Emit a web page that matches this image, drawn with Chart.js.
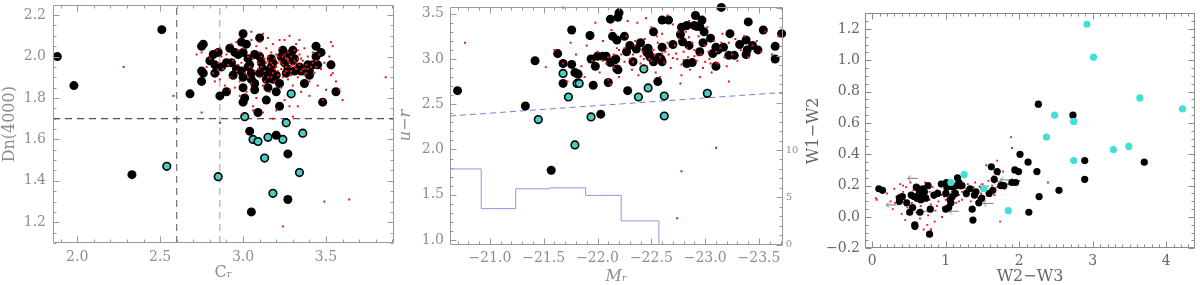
<!DOCTYPE html>
<html><head><meta charset="utf-8">
<script src="https://cdn.jsdelivr.net/npm/chart.js@4.4.0/dist/chart.umd.min.js"></script>
<style>
html,body{margin:0;padding:0;background:#fff;overflow:hidden;width:1200px;height:285px}
canvas{position:absolute;top:0}
</style></head><body>
<canvas id="c1" width="400" height="285" style="left:0px"></canvas>
<canvas id="c2" width="400" height="285" style="left:400px"></canvas>
<canvas id="c3" width="400" height="285" style="left:800px"></canvas>
<script>
// ---------- Panel 1: Cr vs Dn(4000) ----------
const p1XTicks = [2.0, 2.5, 3.0, 3.5];
const p1YTicks = [1.2, 1.4, 1.6, 1.8, 2.0, 2.2];
const p1CrCuts = [2.60, 2.86];
const p1DnCut = 1.70;
const p1Black = [[1.88,2.00],[1.98,1.86],[2.51,2.13],[2.33,1.43],[2.68,1.82],[2.75,1.88],[2.75,1.93],[2.76,1.92],[2.75,2.05],[2.76,2.06],[2.80,1.98],[2.82,2.01],[2.83,1.96],[2.83,1.92],[2.85,2.02],[2.86,1.81],[2.87,1.95],[2.90,1.97],[2.90,1.83],[2.92,2.04],[2.93,1.97],[2.94,1.91],[2.95,2.02],[2.96,1.94],[2.97,2.01],[2.99,1.93],[3.00,2.11],[2.99,2.07],[3.00,2.02],[3.00,1.90],[3.00,1.85],[3.00,1.78],[3.01,1.80],[3.02,2.06],[3.03,1.99],[3.03,1.95],[3.04,1.96],[3.05,1.92],[3.05,1.89],[3.07,2.01],[3.07,1.87],[3.07,1.84],[3.09,1.73],[3.10,2.00],[3.10,2.09],[3.11,1.97],[3.10,1.92],[3.12,1.94],[3.14,1.79],[3.14,1.89],[3.15,1.85],[3.15,1.92],[3.17,1.99],[3.17,1.95],[3.17,1.93],[3.18,1.97],[3.18,1.89],[3.20,1.83],[3.20,1.91],[3.22,1.76],[3.22,1.87],[3.23,2.00],[3.24,2.03],[3.25,1.97],[3.26,1.92],[3.27,1.94],[3.28,2.01],[3.30,1.98],[3.30,2.03],[3.31,1.93],[3.31,1.99],[3.34,1.95],[3.35,1.93],[3.37,1.87],[3.39,1.96],[3.40,1.93],[3.40,1.91],[3.42,1.96],[3.44,2.05],[3.44,2.00],[3.45,1.96],[3.47,2.02],[3.48,1.78],[3.53,1.96],[3.56,1.83],[3.04,1.64],[3.20,1.62],[3.27,1.53],[3.27,1.31],[3.05,1.25]];
const p1Cyan = [[2.54,1.47],[2.85,1.42],[3.01,1.71],[3.06,1.60],[3.09,1.59],[3.15,1.61],[3.24,1.60],[3.26,1.68],[3.36,1.63],[3.13,1.51],[3.34,1.44],[3.18,1.34],[3.29,1.82]];
const p1Red = [[2.78,1.95],[2.80,1.99],[2.82,1.92],[2.84,2.03],[2.85,1.97],[2.86,1.89],[2.87,2.00],[2.88,1.94],[2.89,1.86],[2.90,2.01],[2.91,1.96],[2.92,1.90],[2.93,2.06],[2.94,1.98],[2.95,1.85],[2.96,1.93],[2.97,2.03],[2.98,1.88],[2.99,1.97],[3.00,2.04],[3.01,1.92],[3.02,1.83],[3.03,2.00],[3.04,1.95],[3.05,2.08],[3.05,1.87],[3.06,1.99],[3.07,1.93],[3.08,2.05],[3.08,1.80],[3.09,1.97],[3.10,1.90],[3.10,2.02],[3.11,1.95],[3.12,2.11],[3.12,1.86],[3.13,1.99],[3.13,1.93],[3.14,2.04],[3.14,1.97],[3.15,1.90],[3.15,2.00],[3.16,1.95],[3.16,1.83],[3.17,2.02],[3.17,1.97],[3.18,1.92],[3.18,2.06],[3.19,1.99],[3.19,1.88],[3.20,1.95],[3.20,2.01],[3.21,1.97],[3.21,1.91],[3.22,2.04],[3.22,1.98],[3.23,1.94],[3.23,1.85],[3.24,2.00],[3.24,1.96],[3.25,2.08],[3.25,1.92],[3.26,1.99],[3.26,1.95],[3.27,2.02],[3.27,1.89],[3.28,1.97],[3.28,2.10],[3.29,1.93],[3.29,2.00],[3.30,1.96],[3.30,1.86],[3.31,2.03],[3.31,1.98],[3.32,1.94],[3.32,2.06],[3.33,1.99],[3.33,1.90],[3.34,1.96],[3.34,2.01],[3.35,1.93],[3.35,1.83],[3.36,1.98],[3.37,2.04],[3.37,1.91],[3.38,1.96],[3.39,2.00],[3.40,1.88],[3.41,1.95],[3.42,2.02],[3.43,1.92],[3.44,1.98],[3.45,1.86],[3.46,2.01],[3.47,1.94],[3.49,1.97],[3.50,1.84],[3.52,2.00],[3.54,1.92],[3.53,2.07],[3.54,2.05],[3.56,1.88],[3.58,1.84],[3.48,1.79],[3.28,1.76],[3.25,1.79],[3.20,1.74],[3.12,1.73],[3.06,1.76],[2.98,1.81],[2.92,1.84],[2.83,1.88],[2.75,2.02],[3.00,1.72],[3.18,1.70],[3.30,1.71],[3.40,1.81],[3.15,2.09],[3.05,2.12],[3.22,2.08],[3.34,2.08],[3.10,2.07],[2.96,2.07],[2.86,2.04],[3.26,1.93],[3.24,1.90],[3.19,1.94],[3.29,1.95],[3.32,1.97],[3.21,2.00],[3.17,1.90],[3.13,1.88],[3.36,1.94],[3.38,1.92],[3.42,1.97],[2.28,1.95],[2.58,1.81],[2.75,1.73],[2.72,2.01],[3.86,1.90],[3.60,1.79],[3.49,1.30],[3.64,1.31],[3.24,1.18],[2.86,1.68],[3.53,1.91],[3.33,1.76],[3.06,1.74],[3.18,1.96],[3.23,1.97],[3.27,1.98],[3.31,1.95],[3.35,1.99],[3.15,1.98],[3.11,2.00],[3.21,1.93],[3.25,2.01],[3.29,1.91],[3.33,2.03],[3.09,1.94],[3.03,1.90],[2.97,1.96],[3.39,1.94],[3.44,1.95]];

// ---------- Panel 2: Mr vs u-r ----------
const p2XTicks = [-21.0, -21.5, -22.0, -22.5, -23.0, -23.5];
const p2YTicks = [1.0, 1.5, 2.0, 2.5, 3.0, 3.5];
const p2Y2Ticks = [0, 5, 10];
const p2CutX = [-20.63, -23.72];
const p2CutY = [2.37, 2.63];
const p2HistEdges = [-20.63, -20.92, -21.24, -21.56, -21.89, -22.22, -22.57, -22.73];
const p2HistCounts = [8.0, 3.8, 5.9, 6.0, 5.2, 2.5, 0];
const p2Black = [[-20.70,2.65],[-21.33,2.48],[-21.42,2.98],[-21.63,3.06],[-21.57,1.77],[-21.68,2.95],[-21.68,2.73],[-21.76,2.94],[-21.76,3.32],[-21.79,2.85],[-21.81,2.84],[-21.82,2.83],[-21.93,3.26],[-21.94,3.00],[-21.96,2.71],[-21.98,2.92],[-22.00,3.03],[-22.03,2.39],[-22.05,3.03],[-22.08,3.03],[-22.10,2.74],[-22.12,2.96],[-22.12,3.44],[-22.14,3.25],[-22.16,2.99],[-22.17,3.00],[-22.18,3.21],[-22.18,2.89],[-22.19,2.88],[-22.19,3.46],[-22.20,3.51],[-22.25,3.25],[-22.27,3.08],[-22.28,2.65],[-22.30,3.15],[-22.33,2.97],[-22.36,3.11],[-22.40,3.18],[-22.45,3.10],[-22.46,3.07],[-22.47,3.12],[-22.48,3.05],[-22.49,3.02],[-22.52,3.30],[-22.52,2.97],[-22.56,2.75],[-22.57,3.02],[-22.59,3.00],[-22.60,3.43],[-22.60,3.13],[-22.60,2.97],[-22.66,3.43],[-22.70,3.16],[-22.77,3.27],[-22.78,3.35],[-22.79,3.19],[-22.83,3.37],[-22.83,2.95],[-22.85,3.15],[-22.88,2.96],[-22.90,3.37],[-22.91,3.48],[-22.92,3.36],[-22.95,3.36],[-22.97,3.43],[-22.98,3.18],[-22.99,3.30],[-23.05,3.23],[-23.07,3.06],[-23.10,3.13],[-23.12,3.10],[-23.15,3.57],[-23.17,3.13],[-23.23,3.28],[-23.22,3.04],[-23.27,3.04],[-23.32,3.16],[-23.38,3.05],[-23.39,3.10],[-23.40,3.41],[-23.38,3.21],[-23.44,3.15],[-23.49,3.10],[-23.54,3.32],[-23.65,3.14],[-23.65,3.00],[-23.71,3.28],[-22.95,3.08],[-23.10,2.92]];
const p2Cyan = [[-21.68,2.84],[-21.73,2.58],[-21.45,2.33],[-21.79,2.05],[-21.81,2.73],[-21.83,2.73],[-21.94,2.36],[-22.38,2.58],[-22.43,2.89],[-22.47,2.68],[-22.62,2.59],[-22.62,2.37],[-23.02,2.62]];
const p2Red = [[-21.80,3.05],[-21.85,2.92],[-21.90,3.15],[-21.95,2.98],[-22.00,3.08],[-22.02,2.85],[-22.05,3.20],[-22.08,2.95],[-22.10,3.02],[-22.13,3.32],[-22.15,2.90],[-22.18,3.12],[-22.20,2.80],[-22.22,3.05],[-22.25,2.97],[-22.27,3.25],[-22.30,3.00],[-22.32,2.88],[-22.35,3.15],[-22.37,3.40],[-22.40,2.95],[-22.42,3.08],[-22.44,3.22],[-22.46,2.92],[-22.48,3.00],[-22.50,3.35],[-22.52,3.10],[-22.54,2.85],[-22.56,3.18],[-22.58,3.02],[-22.60,3.28],[-22.62,2.96],[-22.64,3.12],[-22.66,3.05],[-22.68,2.90],[-22.70,3.38],[-22.72,3.15],[-22.74,3.00],[-22.76,3.22],[-22.78,2.94],[-22.80,3.08],[-22.82,3.30],[-22.84,3.02],[-22.86,2.88],[-22.88,3.18],[-22.90,3.10],[-22.92,2.98],[-22.94,3.25],[-22.96,3.05],[-22.98,2.90],[-23.00,3.15],[-23.02,3.35],[-23.04,3.00],[-23.06,2.85],[-23.08,3.20],[-23.10,3.08],[-23.12,2.95],[-23.14,3.12],[-23.16,3.28],[-23.18,3.02],[-23.20,2.92],[-23.22,3.18],[-23.25,3.05],[-23.28,3.22],[-23.30,2.98],[-23.33,3.10],[-23.36,3.25],[-23.40,3.02],[-23.44,3.15],[-23.48,3.20],[-23.52,3.08],[-23.56,3.30],[-23.62,3.05],[-23.68,3.25],[-21.75,3.18],[-21.72,2.75],[-21.98,3.40],[-22.12,2.72],[-22.28,3.42],[-22.45,3.45],[-22.65,3.48],[-22.85,3.42],[-22.33,3.05],[-22.43,3.00],[-22.53,3.05],[-22.63,3.08],[-22.73,3.06],[-22.83,3.12],[-22.93,3.04],[-23.03,3.08],[-22.38,2.82],[-22.58,2.80],[-22.78,2.82],[-22.95,2.80],[-23.05,2.95],[-22.20,3.10],[-22.55,3.25],[-22.75,3.30],[-22.05,2.98],[-21.88,2.80],[-20.77,3.18],[-21.52,2.91],[-21.60,3.10],[-21.68,3.57],[-22.78,1.76],[-22.74,1.24],[-23.10,2.02],[-23.22,2.75],[-22.77,2.73],[-22.10,2.77],[-21.68,2.95],[-22.33,2.97],[-23.10,2.96],[-22.40,3.03],[-22.50,2.98],[-22.60,3.06],[-22.70,3.01],[-22.80,2.99],[-22.90,3.03],[-23.00,2.97],[-22.35,3.20],[-22.65,3.18],[-22.85,3.24],[-23.15,3.18],[-22.25,3.12],[-22.15,3.05]];

// ---------- Panel 3: W2-W3 vs W1-W2 ----------
const p3XTicks = [0, 1, 2, 3, 4];
const p3YTicks = [-0.2, 0.0, 0.2, 0.4, 0.6, 0.8, 1.0, 1.2];
const p3Black = [[0.09,0.18],[0.14,0.17],[0.37,0.10],[0.41,0.13],[0.47,0.09],[0.51,0.03],[0.53,0.14],[0.55,0.06],[0.58,-0.05],[0.58,-0.06],[0.60,0.19],[0.61,0.12],[0.64,0.15],[0.65,0.03],[0.66,0.11],[0.69,0.18],[0.70,0.13],[0.71,0.16],[0.73,0.12],[0.76,0.20],[0.79,0.05],[0.78,-0.11],[0.84,0.14],[0.89,0.15],[0.94,0.21],[1.00,0.15],[1.01,0.22],[1.02,0.19],[1.00,0.05],[1.04,0.06],[1.06,0.11],[1.07,0.09],[1.09,0.13],[1.10,0.19],[1.13,0.15],[1.15,0.20],[1.16,0.25],[1.18,0.22],[1.22,0.20],[1.28,0.15],[1.33,0.18],[1.36,0.05],[1.37,-0.02],[1.39,0.14],[1.41,0.16],[1.45,0.09],[1.49,0.12],[1.59,0.15],[1.62,0.32],[1.64,0.17],[1.66,0.24],[1.70,0.29],[1.75,0.20],[1.79,0.20],[1.90,0.22],[1.94,0.30],[1.95,0.22],[1.99,0.29],[2.01,0.40],[2.12,0.35],[2.13,0.03],[2.24,0.29],[2.27,0.13],[2.26,0.72],[2.54,0.17],[2.73,0.65],[2.89,0.36],[2.89,0.24],[3.70,0.35],[0.57,0.13],[0.63,0.18],[0.37,0.12]];
const p3Cyan = [[2.92,1.23],[3.01,1.02],[3.64,0.76],[4.22,0.69],[2.48,0.65],[2.74,0.61],[2.37,0.51],[3.28,0.43],[3.49,0.45],[2.74,0.36],[1.85,0.04],[1.25,0.27],[1.52,0.18],[1.07,0.22]];
const p3Limits = [[0.55,0.25],[0.26,0.08],[1.11,0.04],[1.58,0.09],[1.70,0.23],[1.81,0.24],[0.70,0.04],[1.52,0.20]];
const p3Red = [[0.05,0.12],[0.20,0.15],[0.25,0.10],[0.28,0.05],[0.30,0.18],[0.33,0.13],[0.35,0.08],[0.38,0.21],[0.40,0.02],[0.42,0.16],[0.44,0.11],[0.46,0.19],[0.48,0.06],[0.50,0.14],[0.52,0.22],[0.54,0.09],[0.56,0.17],[0.58,0.12],[0.60,0.03],[0.62,0.20],[0.64,0.15],[0.66,0.07],[0.68,0.18],[0.70,0.10],[0.72,0.22],[0.74,0.13],[0.76,0.01],[0.78,0.16],[0.80,0.08],[0.82,0.19],[0.84,0.12],[0.86,0.04],[0.88,0.17],[0.90,0.10],[0.92,0.21],[0.94,0.14],[0.96,0.06],[0.98,0.18],[1.00,0.11],[1.02,0.23],[1.04,0.15],[1.06,0.08],[1.08,0.20],[1.10,0.13],[1.12,0.17],[1.14,0.09],[1.16,0.22],[1.18,0.14],[1.20,0.18],[1.22,0.11],[1.24,0.20],[1.26,0.16],[1.28,0.13],[1.30,0.21],[1.32,0.17],[1.34,0.10],[1.36,0.19],[1.38,0.14],[1.40,0.22],[1.42,0.16],[1.44,0.12],[1.46,0.19],[1.48,0.15],[1.50,0.21],[1.52,0.13],[1.55,0.18],[1.58,0.23],[1.60,0.16],[1.63,0.20],[1.66,0.14],[1.70,0.19],[1.75,0.22],[1.80,0.18],[1.85,0.21],[1.90,0.24],[0.45,-0.02],[0.55,-0.04],[0.65,-0.01],[0.75,-0.05],[0.85,-0.03],[0.70,-0.08],[0.80,-0.08],[0.95,0.00],[0.62,0.10],[0.72,0.15],[0.82,0.14],[0.92,0.16],[1.02,0.17],[1.12,0.20],[1.22,0.16],[0.58,0.18],[0.68,0.13],[0.78,0.11],[0.88,0.07],[0.98,0.13],[1.08,0.16],[1.18,0.10],[1.28,0.18],[1.38,0.19],[1.48,0.18],[0.36,0.14],[0.31,0.09],[0.42,0.20],[0.52,0.03],[1.65,0.26],[1.72,0.27],[1.78,0.29],[1.95,0.23],[2.00,0.23],[1.89,0.51],[1.90,0.44],[2.39,0.22],[1.74,-0.03],[0.80,-0.08],[0.06,0.11],[1.55,0.33],[1.70,0.36]];

// ---------- helpers ----------
const FONT = "'DejaVu Serif', serif";
const pts = a => a.map(p => ({x: p[0], y: p[1]}));
const fmt = (v, d) => (v < -1e-9 ? '\u2212' : '') + Math.abs(v).toFixed(d);

function axis(o) {
  return {
    type: 'linear', position: o.pos, min: o.min, max: o.max, reverse: !!o.reverse,
    grid: {display: false, drawTicks: false},
    border: {display: false},
    afterBuildTicks: s => { s.ticks = o.majors.map(v => ({value: v})); },
    afterFit: s => {
      if (s.isHorizontal()) s.height = o.size; else s.width = o.size;
      s.paddingTop = 0; s.paddingBottom = 0; s.paddingLeft = 0; s.paddingRight = 0;
    },
    ticks: {padding: o.pad, color: o.color, autoSkip: false, maxRotation: 0,
      font: {family: FONT, size: o.fs || 14}, callback: v => fmt(v, o.dec)},
    title: o.title ? {display: true, text: o.title, color: o.color,
      font: {family: FONT, size: o.tfs || 16, style: o.italic ? 'italic' : 'normal', lineHeight: 1.2},
      padding: {top: o.tpad || 0, bottom: o.tpad || 0}} : {display: false}
  };
}

const frameCfg = {};
const frame = {
  id: 'frame',
  afterDraw(chart) {
    const o = frameCfg[chart.canvas.id];
    const {ctx, chartArea: a} = chart;
    ctx.save();
    ctx.strokeStyle = o.color; ctx.lineWidth = 1;
    const L = Math.round(a.left) + 0.5, R = Math.round(a.right) - 0.5, T = Math.round(a.top) + 0.5, B = Math.round(a.bottom) - 0.5;
    ctx.beginPath(); ctx.rect(L, T, R - L, B - T); ctx.stroke();
    ctx.beginPath();
    for (const t of o.ticks) {
      const s = chart.scales[t.scale];
      const lo = Math.min(s.min, s.max), hi = Math.max(s.min, s.max);
      for (let k = Math.ceil(lo / t.minor - 1e-6); k * t.minor <= hi + 1e-9; k++) {
        const v = k * t.minor, r = v / t.major;
        const len = Math.abs(r - Math.round(r)) < 1e-6 ? 6 : 3;
        const p = Math.round(s.getPixelForValue(v)) + 0.5;
        for (const side of t.sides) {
          if (side === 'bottom') { ctx.moveTo(p, B); ctx.lineTo(p, B - len); }
          if (side === 'top') { ctx.moveTo(p, T); ctx.lineTo(p, T + len); }
          if (side === 'left') { ctx.moveTo(L, p); ctx.lineTo(L + len, p); }
          if (side === 'right') { ctx.moveTo(R, p); ctx.lineTo(R - len, p); }
        }
      }
    }
    ctx.stroke(); ctx.restore();
  }
};

const base = (padding) => ({
  responsive: false, animation: false, devicePixelRatio: 1,
  layout: {padding},
  plugins: {legend: {display: false}, tooltip: {enabled: false}}
});
const scat = (data, o) => Object.assign({type: 'scatter', data: pts(data), borderWidth: 0, pointHoverRadius: 0, clip: 6}, o);
const vline = (x, y0, y1, color, order) => ({type: 'scatter', showLine: true, data: [{x, y: y0}, {x, y: y1}],
  borderColor: color, borderWidth: 1, borderDash: [7, 5], pointRadius: 0, order});

// ---------- Panel 1 ----------
const G1 = '#8e8e8e';
const p1X = {min: 1.854, max: 3.91}, p1Y = {min: 1.10, max: 2.247};
frameCfg.c1 = {color: '#9a9a9a', ticks: [
  {scale: 'x', major: 0.5, minor: 0.1, sides: ['bottom', 'top']},
  {scale: 'y', major: 0.2, minor: 0.05, sides: ['left', 'right']}]};
new Chart(document.getElementById('c1'), {
  type: 'scatter',
  data: {datasets: [
    scat(p1Red, {pointStyle: 'rect', pointRadius: 1.4, backgroundColor: '#ee1111', order: 1}),
    scat(p1Cyan, {pointRadius: 3.8, backgroundColor: '#48cfc4', borderColor: '#000', borderWidth: 1.6, order: 2}),
    scat(p1Black, {pointRadius: 4.5, backgroundColor: '#000', order: 3}),
    vline(p1CrCuts[0], p1Y.min, p1Y.max, '#555', 4),
    vline(p1CrCuts[1], p1Y.min, p1Y.max, '#a0a0a0', 4),
    {type: 'scatter', showLine: true, data: [{x: p1X.min, y: p1DnCut}, {x: p1X.max, y: p1DnCut}],
      borderColor: '#222', borderWidth: 1, borderDash: [7, 5], pointRadius: 0, order: 4}
  ]},
  options: Object.assign(base({top: 1, right: 6, left: 0, bottom: 0}), {
    scales: {
      x: axis({pos: 'bottom', ...p1X, majors: p1XTicks, dec: 1, size: 42, pad: 6, color: G1, title: 'C\u1d63', tpad: 3}),
      y: axis({pos: 'left', ...p1Y, majors: p1YTicks, dec: 1, size: 53, pad: 7, color: G1, title: 'Dn(4000)', tpad: 0})
    }
  }),
  plugins: [frame]
});

// ---------- Panel 2 ----------
const G2 = '#8e8e8e';
const p2X = {min: -23.72, max: -20.63}, p2Y = {min: 0.95, max: 3.58};
frameCfg.c2 = {color: '#9a9a9a', ticks: [
  {scale: 'x', major: 0.5, minor: 0.1, sides: ['bottom', 'top']},
  {scale: 'y', major: 0.5, minor: 0.1, sides: ['left']},
  {scale: 'y2', major: 5, minor: 1, sides: ['right']}]};
const histPts = p2HistEdges.map((e, i) => ({x: e, y: p2HistCounts[Math.min(i, p2HistCounts.length - 1)]}));
new Chart(document.getElementById('c2'), {
  type: 'scatter',
  data: {datasets: [
    scat(p2Red, {pointStyle: 'rect', pointRadius: 1.4, backgroundColor: '#ee1111', order: 1}),
    scat(p2Cyan, {pointRadius: 3.8, backgroundColor: '#48cfc4', borderColor: '#000', borderWidth: 1.6, order: 2}),
    scat(p2Black, {pointRadius: 4.5, backgroundColor: '#000', order: 3}),
    {type: 'scatter', showLine: true, data: [{x: p2CutX[0], y: p2CutY[0]}, {x: p2CutX[1], y: p2CutY[1]}],
      borderColor: '#7c7cd6', borderWidth: 1, borderDash: [6, 4], pointRadius: 0, order: 4},
    {type: 'line', yAxisID: 'y2', data: histPts, stepped: 'before', borderColor: '#9292e4', borderWidth: 1,
      pointRadius: 0, fill: false, order: 5}
  ]},
  options: Object.assign(base({top: 6.5, right: 0, left: 0, bottom: 0}), {
    scales: {
      x: axis({pos: 'bottom', ...p2X, reverse: true, majors: p2XTicks, dec: 1, size: 40.5, pad: 5, color: G2, title: 'M\u1d63', italic: true, tpad: -1}),
      y: axis({pos: 'left', ...p2Y, majors: p2YTicks, dec: 1, size: 50, pad: 6, color: G2, title: 'u\u2212r', italic: true, tpad: -4}),
      y2: axis({pos: 'right', min: 0, max: 25.2, majors: p2Y2Ticks, dec: 0, size: 17.3, pad: 3, color: G2, fs: 10})
    }
  }),
  plugins: [frame]
});

// ---------- Panel 3 ----------
const G3 = '#666';
const p3X = {min: -0.098, max: 4.39}, p3Y = {min: -0.2, max: 1.30};
frameCfg.c3 = {color: '#8a8a8a', ticks: [
  {scale: 'x', major: 1, minor: 0.1, sides: ['bottom', 'top']},
  {scale: 'y', major: 0.2, minor: 0.05, sides: ['left', 'right']}]};
const arrow = document.createElement('canvas');
arrow.width = 12; arrow.height = 8;
(() => { const c = arrow.getContext('2d'); c.strokeStyle = '#777'; c.lineWidth = 1; c.beginPath();
  c.moveTo(11, 4.5); c.lineTo(1, 4.5); c.moveTo(4, 1.5); c.lineTo(1, 4.5); c.lineTo(4, 7.5); c.stroke(); })();
new Chart(document.getElementById('c3'), {
  type: 'scatter',
  data: {datasets: [
    scat(p3Cyan, {pointRadius: 3.6, backgroundColor: '#3fe0d6', order: 1}),
    scat(p3Black, {pointRadius: 3.6, backgroundColor: '#000', order: 2}),
    scat(p3Limits, {pointStyle: arrow, pointRadius: 5, order: 3}),
    scat(p3Red, {pointStyle: 'rect', pointRadius: 1.3, backgroundColor: '#e8142a', order: 4})
  ]},
  options: Object.assign(base({top: 13.3, right: 2, left: 0, bottom: 0}), {
    scales: {
      x: axis({pos: 'bottom', ...p3X, majors: p3XTicks, dec: 0, size: 36.7, pad: 5, color: G3, title: 'W2\u2212W3', tpad: -1}),
      y: axis({pos: 'left', ...p3Y, majors: p3YTicks, dec: 1, size: 65, pad: 5, color: G3, title: 'W1\u2212W2', tpad: 4})
    }
  }),
  plugins: [frame]
});
</script>
</body></html>
